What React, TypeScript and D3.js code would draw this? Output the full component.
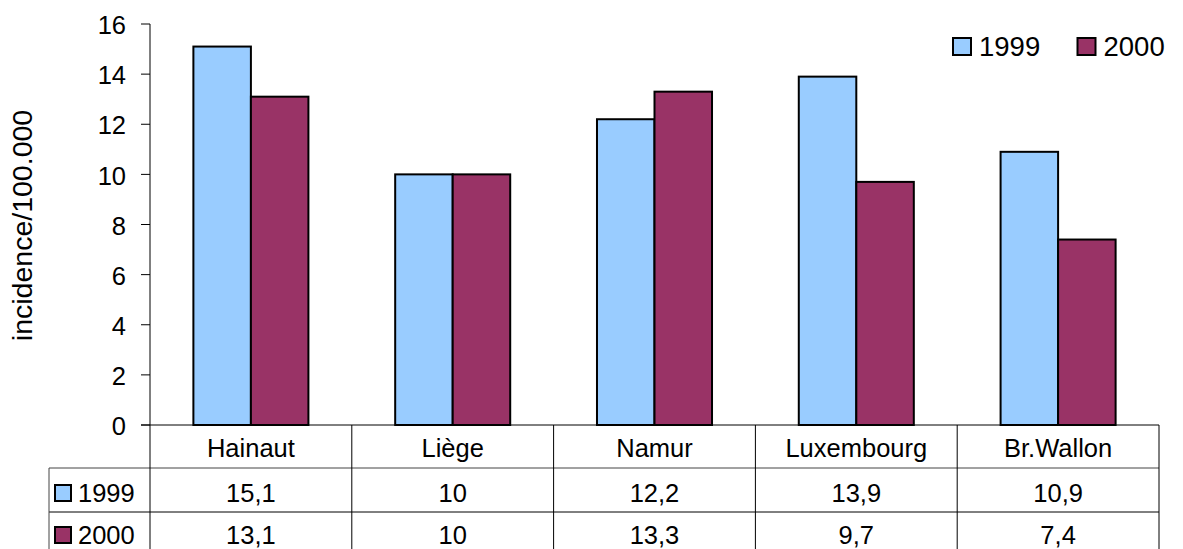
import React from "react";
import * as d3 from "d3";

const categories = ["Hainaut", "Liège", "Namur", "Luxembourg", "Br.Wallon"];
const seriesNames = ["1999", "2000"];
const values1999 = [15.1, 10, 12.2, 13.9, 10.9];
const values2000 = [13.1, 10, 13.3, 9.7, 7.4];
const yTicks = [0, 2, 4, 6, 8, 10, 12, 14, 16];
const colors = ["#99CCFF", "#993366"];

const W = 1183;
const H = 549;
const plotLeft = 150;
const plotRight = 1159;
const plotTop = 24;
const plotBottom = 425;
const tableLeft = 49;
const row1 = 468;
const row2 = 512;
const row3 = 556;
const font = "Liberation Sans, Arial, sans-serif";

export default function App() {
  const series = [values1999, values2000];
  const x = d3.scaleBand<string>().domain(categories).range([plotLeft, plotRight]).paddingInner(0).paddingOuter(0);
  const y = d3.scaleLinear().domain([0, 16]).range([plotBottom, plotTop]);
  const bw = x.bandwidth();
  const groupW = bw * 0.57;
  const barW = groupW / 2;
  const fmt = (v: number) => String(v).replace(".", ",");
  const colEdges = categories.map((c) => x(c)!).concat([plotRight]);
  const rowMid1 = (row1 + row2) / 2;
  const rowMid2 = (row2 + row3) / 2;
  return (
    <div style={{ position: "fixed", left: 0, top: 0, width: W, height: H, overflow: "hidden" }}>
      <svg width={W} height={H} style={{ display: "block", background: "#fff" }} fontFamily={font}>
        {/* y axis */}
        <line x1={plotLeft} x2={plotLeft} y1={plotTop} y2={plotBottom} stroke="#000" strokeWidth={1} />
        {yTicks.map((t) => (
          <g key={t}>
            <line x1={plotLeft - 9} x2={plotLeft} y1={y(t)} y2={y(t)} stroke="#000" />
            <text x={126} y={y(t) + 1} dy="0.36em" textAnchor="end" fontSize={25.5}>
              {t}
            </text>
          </g>
        ))}
        <text transform={`translate(32,${225.5}) rotate(-90)`} textAnchor="middle" fontSize={28.5}>
          incidence/100.000
        </text>
        {/* bars */}
        {categories.map((c, i) => {
          const gx = x(c)! + (bw - groupW) / 2;
          return series.map((s, j) => (
            <rect
              key={c + j}
              x={gx + j * barW}
              y={y(s[i])}
              width={barW}
              height={y(0) - y(s[i])}
              fill={colors[j]}
              stroke="#000"
              strokeWidth={2}
            />
          ));
        })}
        {/* table */}
        <line x1={plotLeft - 9} x2={plotRight} y1={plotBottom} y2={plotBottom} stroke="#000" />
        <line x1={tableLeft} x2={plotRight} y1={row1} y2={row1} stroke="#444" />
        <line x1={tableLeft} x2={plotRight} y1={row2} y2={row2} stroke="#000" />
        <line x1={tableLeft} x2={tableLeft} y1={row1} y2={row3} stroke="#444" />
        {colEdges.map((cx, k) => (
          <line key={k} x1={cx} x2={cx} y1={plotBottom} y2={row3} stroke="#000" />
        ))}
        {categories.map((c, i) => (
          <g key={c}>
            <text x={x(c)! + bw / 2} y={448} dy="0.36em" textAnchor="middle" fontSize={25.5}>
              {c}
            </text>
            <text x={x(c)! + bw / 2} y={rowMid1 + 3} dy="0.36em" textAnchor="middle" fontSize={25.5}>
              {fmt(values1999[i])}
            </text>
            <text x={x(c)! + bw / 2} y={rowMid2 + 1} dy="0.36em" textAnchor="middle" fontSize={25.5}>
              {fmt(values2000[i])}
            </text>
          </g>
        ))}
        {seriesNames.map((n, j) => {
          const cy = j === 0 ? rowMid1 + 3 : rowMid2 + 1;
          return (
            <g key={n}>
              <rect x={55} y={cy - 8} width={16} height={16} fill={colors[j]} stroke="#000" strokeWidth={2} />
              <text x={78} y={cy} dy="0.36em" fontSize={25.5}>
                {n}
              </text>
            </g>
          );
        })}
        {/* legend */}
        {seriesNames.map((n, j) => {
          const lx = 953 + j * 124.5;
          return (
            <g key={"l" + n}>
              <rect x={lx} y={38} width={18} height={17} fill={colors[j]} stroke="#000" strokeWidth={2} />
              <text x={lx + 26} y={46} dy="0.36em" fontSize={27.5}>
                {n}
              </text>
            </g>
          );
        })}
      </svg>
    </div>
  );
}
